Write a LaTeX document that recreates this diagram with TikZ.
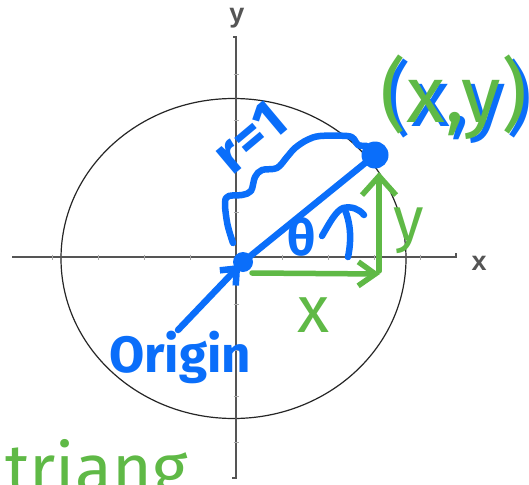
\documentclass[tikz,border=0pt]{standalone}
\usepackage{fontspec}
\setmainfont{Fira Sans}
\newfontfamily\axfont{Liberation Sans}
\usetikzlibrary{arrows.meta}
\definecolor{pen}{RGB}{10,110,250}
\definecolor{grn}{RGB}{95,185,70}
\definecolor{axisc}{RGB}{85,85,85}
\newcommand{\hf}[1]{\bfseries\fontsize{#1}{#1}\selectfont}
\newcommand{\hr}[1]{\mdseries\fontsize{#1}{#1}\selectfont}
\begin{document}
\begin{tikzpicture}[x=1pt,y=-1pt,
  bluepen/.style={pen, line width=6.5pt, line cap=round, line join=round},
  greenpen/.style={grn, line width=5.5pt, line cap=round, line join=round},
  axisline/.style={axisc, line width=1.4pt},
  tickmark/.style={axisc!50, line width=0.8pt},
  hand/.style={inner sep=0pt, anchor=base},
  axlabel/.style={font=\axfont\bfseries\fontsize{27}{27}\selectfont, text=axisc, inner sep=0pt},
]
\useasboundingbox (0,0) rectangle (529,484);
\clip (0,0) rectangle (529,484);
\fill[white] (0,0) rectangle (529,484);

% circle and axes
\draw[black!85, line width=1.2pt] (233.5,258.5) ellipse [x radius=172.5pt, y radius=160pt];
\draw[axisline] (12,257) -- (456,257) -- (456,253);
\draw[axisline] (232,478) -- (236,478) -- (236,37) -- (233,37);
\foreach \t in {52,98,144,190,282,328,374,420} \draw[tickmark] (\t,254.5) -- (\t,259.5);
\foreach \t in {74,120,166,212,304,350,396,442} \draw[tickmark] (233.5,\t) -- (238.5,\t);
\node[axlabel] (xl) at (479,263) {x};
\node[axlabel] (yl) at (237,18) {y};

% key points
\coordinate (O) at (243,262);
\coordinate (P) at (375,155);
\coordinate (C) at (380,274);
\coordinate (Hs) at (252,273);
\coordinate (Vs) at (379,271);
\coordinate (Vt) at (379,172);
\coordinate (Os) at (178,330);

% blue radius line, brace, dots
\draw[bluepen] (O) -- (P);
\draw[bluepen] plot[smooth, tension=0.55] coordinates {(233,243) (227,222) (226,198) (242,195) (251,191) (255,177) (262,170) (277,168) (287,157) (295,148) (307,140) (320,136) (347,136) (354,139) (358,145) (367,146)};
\fill[pen] (O) circle[radius=10pt];
\fill[pen] (P) circle[radius=13.5pt];
\node[hand, anchor=center, text=pen, rotate=40, font=\hf{56}] (r1) at (250,137) {r=1};

% theta and angle arrow
\node[hand, anchor=center, text=pen, font=\hf{50}] (th) at (302,237) {θ};
\draw[bluepen] (348,257) .. controls (352,238) and (350,222) .. (345,210);
\draw[bluepen] (322,236) .. controls (330,222) and (336,211) .. (343,208) .. controls (352,206) and (359,209) .. (364,215);

% green legs
\draw[greenpen, -{Straight Barb[length=17pt,width=24pt]}] (Hs) -- (C);
\draw[greenpen, -{Straight Barb[length=19pt,width=34pt]}] (Vs) -- (Vt);
\node[hand, text=grn, font=\hr{66}] (xg) at (313,332) {x};
\node[hand, text=grn, font=\hr{62}] (yg) at (409,240) {y};

% (x,y) label
\node[hand, text=pen, font=\hr{80}] (xyb) at (459,126) {(x,y)};
\node[hand, text=grn, font=\hr{80}] (xy) at (454,122) {(x,y)};

% origin label
\draw[bluepen, shorten >=4pt, -{Straight Barb[length=13pt,width=22pt]}] (Os) -- (O);
\node[hand, text=pen, font=\hf{51}] (orig) at (180,372) {Origin};

% bottom note
\node[hand, anchor=base west, text=grn, font=\hr{68}] (tri) at (5,492) {triang};
\end{tikzpicture}
\end{document}
